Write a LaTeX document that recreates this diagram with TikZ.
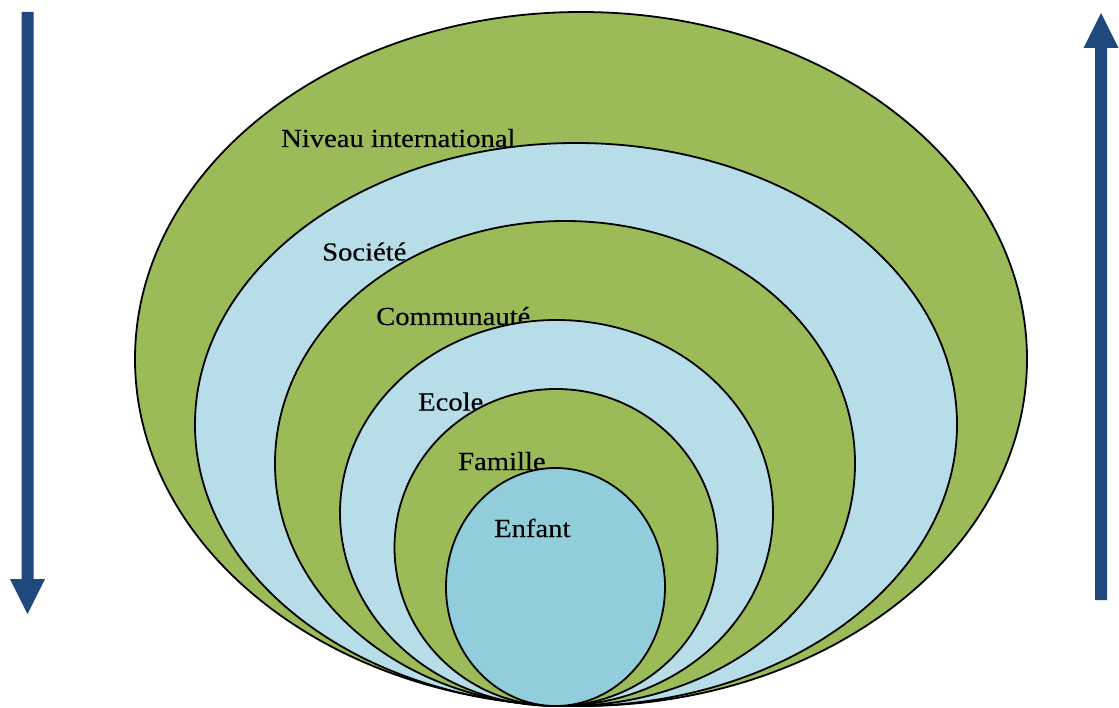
\documentclass[tikz,border=0pt]{standalone}
\usepackage{fontspec}
\setmainfont{Liberation Serif}[FakeStretch=1.1]
\usetikzlibrary{shapes.geometric}
\definecolor{ringgreen}{HTML}{9BBB59}
\definecolor{ringblue}{HTML}{B7DDE8}
\definecolor{coreblue}{HTML}{92CDDC}
\definecolor{arrowblue}{HTML}{1F497D}
\tikzset{
  ring/.style n args={3}{ellipse, draw=black, line width=1.8pt, fill=#1,
    minimum width=#2, minimum height=#3, inner sep=0pt, outer sep=0pt},
  lbl/.style={anchor=base west, inner sep=0pt,
    font=\fontsize{26pt}{28pt}\selectfont\addfontfeature{FakeBold=0.35}, text=black},
  bigarrow/.style={fill=arrowblue}
}
\begin{document}
\begin{tikzpicture}[x=1pt,y=-1pt]
\useasboundingbox (0,0) rectangle (1119,708);

% nested levels, all touching at the bottom
\node[ring={ringgreen}{892pt}{694pt}] (intl) at (581,359) {};
\node[lbl] (tintl) at (281,147) {Niveau international};

\node[ring={ringblue}{762pt}{563pt}] (soc) at (576,424.5) {};
\node[lbl] (tsoc) at (322,260.5) {Société};

\node[ring={ringgreen}{580pt}{485pt}] (comm) at (565,463.5) {};
\node[lbl] (tcomm) at (376,325) {Communauté};

\node[ring={ringblue}{433pt}{386pt}] (ecole) at (556.5,513) {};
\node[lbl] (tecole) at (418,410.5) {Ecole};

\node[ring={ringgreen}{323pt}{317pt}] (fam) at (556,547.5) {};
\node[lbl] (tfam) at (458,470) {Famille};

\node[ring={coreblue}{219pt}{238pt}] (enf) at (555.5,587) {};
\node[lbl] (tenf) at (494,537) {Enfant};

% downward arrow on the left
\fill[bigarrow] (21.5,12) -- (33.5,12) -- (33.5,579) -- (45,579) -- (27.5,614)
  -- (10,579) -- (21.5,579) -- cycle;
% upward arrow on the right
\fill[bigarrow] (1095,600) -- (1107,600) -- (1107,48) -- (1118.5,48) -- (1101,13)
  -- (1083.5,48) -- (1095,48) -- cycle;
\end{tikzpicture}
\end{document}
